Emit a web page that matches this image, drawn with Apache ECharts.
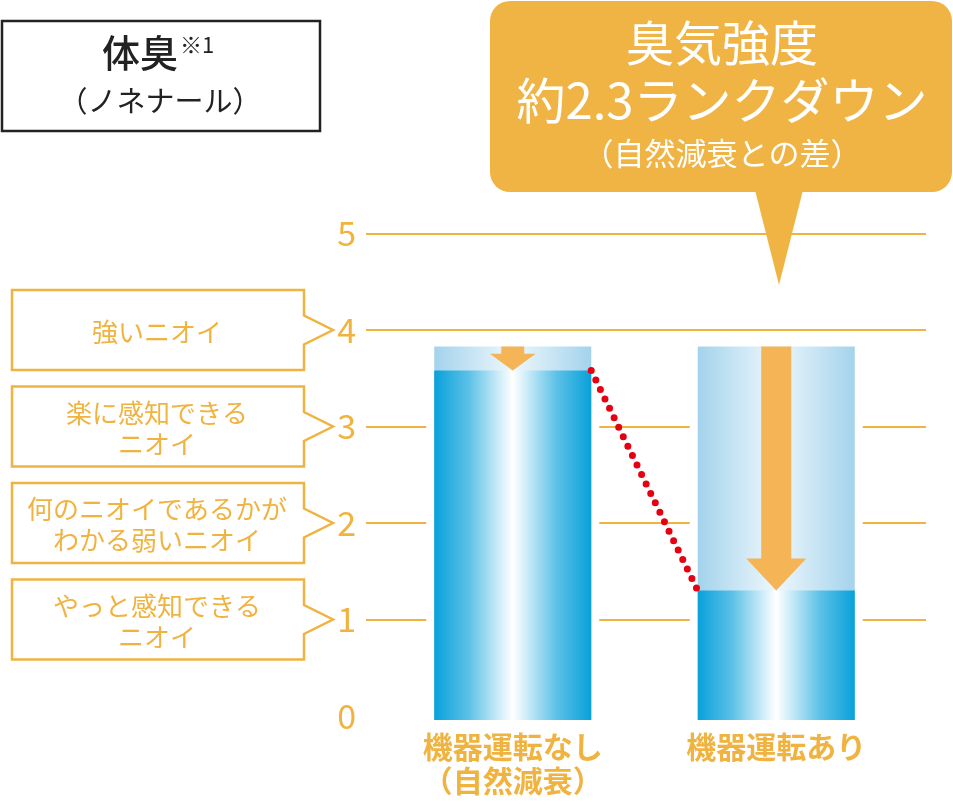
<!DOCTYPE html>
<html>
<head>
<meta charset="utf-8">
<script src="https://cdn.jsdelivr.net/npm/echarts@6/dist/echarts.min.js"></script>
<style>
  html, body { margin: 0; padding: 0; background: #fff; }
  #main { width: 953px; height: 810px; }
</style>
</head>
<body>
<div id="main"></div>
<script>
// data
const categories = ['機器運転なし\n（自然減衰）', '機器運転あり'];
const startValues = [3.83, 3.83];   // top of pale bar (before)
const endValues = [3.58, 1.3];      // top of solid bar (after)
const levelValues = [4, 3, 2, 1];
const levelTexts = ['強いニオイ', '楽に感知できる\nニオイ', '何のニオイであるかが\nわかる弱いニオイ', 'やっと感知できる\nニオイ'];

const ORANGE = '#F1B340';
const FONT = '"Noto Sans CJK JP", "Noto Sans", sans-serif';
const BAR_W = 157;

const chart = echarts.init(document.getElementById('main'));

const solidGrad = () => new echarts.graphic.LinearGradient(0, 0, 1, 0, [
  { offset: 0, color: '#08a1da' },
  { offset: 0.22, color: '#5cc1e6' },
  { offset: 0.42, color: '#d2eef9' },
  { offset: 0.5, color: '#ffffff' },
  { offset: 0.58, color: '#d2eef9' },
  { offset: 0.78, color: '#5cc1e6' },
  { offset: 1, color: '#08a1da' }
]);
const paleGrad = () => new echarts.graphic.LinearGradient(0, 0, 1, 0, [
  { offset: 0, color: '#a3d3ec' },
  { offset: 0.5, color: '#eef7fc' },
  { offset: 1, color: '#a3d3ec' }
]);

function renderBar(params, api) {
  const i = api.value(0);
  const top = api.coord([i, api.value(1)]);
  const end = api.coord([i, api.value(2)]);
  const base = api.coord([i, 0]);
  const x0 = top[0] - BAR_W / 2;
  const yb = base[1] + 4;
  const len = end[1] - top[1];
  const headH = Math.min(32, len * 0.7);
  const headW = 30 + headH * 0.94;
  const shaftW = headW / 2;
  const cx = top[0];
  return {
    type: 'group',
    children: [
      { type: 'rect', shape: { x: x0 - 8, y: top[1], width: BAR_W + 16, height: yb - top[1] }, style: { fill: '#fff' } },
      { type: 'rect', shape: { x: x0, y: top[1], width: BAR_W, height: yb - top[1] }, style: { fill: paleGrad() } },
      { type: 'rect', shape: { x: x0, y: end[1], width: BAR_W, height: yb - end[1] }, style: { fill: solidGrad() } },
      {
        type: 'polygon',
        shape: {
          points: [
            [cx - shaftW / 2, top[1]], [cx + shaftW / 2, top[1]],
            [cx + shaftW / 2, end[1] - headH], [cx + headW / 2, end[1] - headH],
            [cx, end[1]],
            [cx - headW / 2, end[1] - headH], [cx - shaftW / 2, end[1] - headH]
          ]
        },
        style: { fill: '#F5B456' }
      }
    ]
  };
}

function renderConnector(params, api) {
  const p1 = api.coord([api.value(0), api.value(1)]);
  const p2 = api.coord([api.value(2), api.value(3)]);
  return {
    type: 'line',
    shape: { x1: p1[0] + BAR_W / 2, y1: p1[1], x2: p2[0] - BAR_W / 2, y2: p2[1] },
    style: { stroke: '#E60012', lineWidth: 7, lineDash: [0, 10.5], lineCap: 'round' }
  };
}

function renderLevel(params, api) {
  const y = api.coord([0, api.value(1)])[1];
  const l = 12, r = 304, h = 40;
  return {
    type: 'group',
    children: [
      {
        type: 'polygon',
        shape: { points: [[l, y - h], [r, y - h], [r, y - 14.5], [333, y], [r, y + 14.5], [r, y + h], [l, y + h]] },
        style: { fill: '#fff', stroke: ORANGE, lineWidth: 2.5 }
      },
      {
        type: 'text',
        style: {
          text: levelTexts[params.dataIndex], x: 157, y: y + 2,
          align: 'center', verticalAlign: 'middle',
          fill: ORANGE, fontSize: 26, lineHeight: 31, fontFamily: FONT
        }
      }
    ]
  };
}

const option = {
  animation: false,
  backgroundColor: '#fff',
  grid: [
    { left: 366, right: 27, top: 233.5, bottom: 94 },
    { left: 381, right: 45, top: 233.5, bottom: 94 }
  ],
  xAxis: [
    { gridIndex: 0, type: 'value', min: 0, max: 1, show: false },
    {
      gridIndex: 1, type: 'category', data: categories,
      axisLine: { show: false }, axisTick: { show: false },
      axisLabel: { color: ORANGE, fontSize: 30, fontWeight: 'bold', lineHeight: 34, margin: 14, fontFamily: FONT }
    }
  ],
  yAxis: [
    {
      gridIndex: 0, type: 'value', min: 0, max: 5, interval: 1,
      axisLine: { show: false }, axisTick: { show: false },
      axisLabel: { color: ORANGE, fontSize: 34, margin: 10, fontFamily: FONT },
      splitLine: { show: true, showMinLine: false, lineStyle: { color: ORANGE, width: 2 } }
    },
    { gridIndex: 1, type: 'value', min: 0, max: 5, interval: 1, show: false }
  ],
  graphic: [
    { type: 'rect', shape: { x: 2, y: 21, width: 318, height: 110 }, style: { fill: '#fff', stroke: '#222', lineWidth: 2.5 } },
    { type: 'text', x: 140, y: 53, style: { text: '体臭', fontSize: 38, fontWeight: 500, fill: '#222', align: 'center', verticalAlign: 'middle', fontFamily: FONT } },
    { type: 'text', x: 180, y: 45, style: { text: '※1', fontSize: 22, fill: '#222', align: 'left', verticalAlign: 'middle', fontFamily: FONT } },
    { type: 'text', x: 160, y: 101, style: { text: '（ノネナール）', fontSize: 29, fill: '#222', align: 'center', verticalAlign: 'middle', fontFamily: FONT } },
    { type: 'rect', shape: { x: 490, y: 1, width: 462, height: 191, r: 20 }, style: { fill: '#F0B445' } },
    { type: 'polygon', shape: { points: [[755, 190], [803, 190], [779, 285]] }, style: { fill: '#F0B445' } },
    { type: 'text', x: 722, y: 43, style: { text: '臭気強度', fontSize: 48, fill: '#fff', align: 'center', verticalAlign: 'middle', fontFamily: FONT } },
    { type: 'text', x: 722, y: 100, style: { text: '約2.3ランクダウン', fontSize: 49, fill: '#fff', align: 'center', verticalAlign: 'middle', fontFamily: FONT } },
    { type: 'text', x: 722, y: 153, style: { text: '（自然減衰との差）', fontSize: 31, fill: '#fff', align: 'center', verticalAlign: 'middle', fontFamily: FONT } }
  ],
  series: [
    {
      type: 'custom', name: 'levels', xAxisIndex: 0, yAxisIndex: 0,
      renderItem: renderLevel,
      data: levelValues.map(v => [0, v]),
      clip: false, z: 3
    },
    {
      type: 'custom', name: 'bars', xAxisIndex: 1, yAxisIndex: 1,
      renderItem: renderBar,
      encode: { x: 0, y: [1, 2] },
      data: categories.map((c, i) => [i, startValues[i], endValues[i]]),
      clip: false, z: 2
    },
    {
      type: 'custom', name: 'connector', xAxisIndex: 1, yAxisIndex: 1,
      renderItem: renderConnector,
      encode: { x: [0, 2], y: [1, 3] },
      data: [[0, endValues[0], 1, endValues[1]]],
      clip: false, z: 5
    }
  ]
};

chart.setOption(option);
</script>
</body>
</html>
